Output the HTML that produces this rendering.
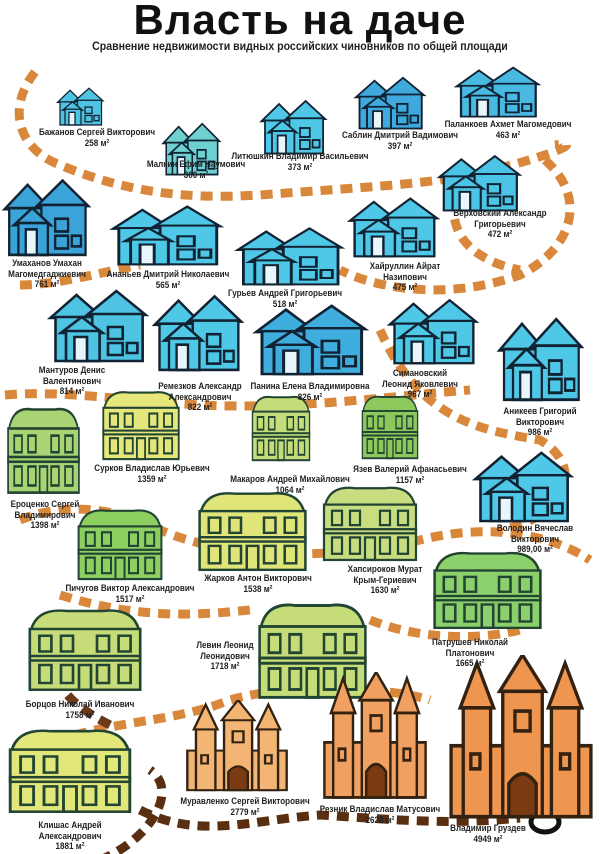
<!DOCTYPE html>
<html><head><meta charset="utf-8">
<style>
body{margin:0;width:600px;height:854px;background:#fff;position:relative;overflow:hidden;font-family:"Liberation Sans Narrow","Liberation Sans","DejaVu Sans Condensed",sans-serif;}
h1{position:absolute;top:-4px;left:0;width:600px;text-align:center;margin:0;font-size:42px;font-weight:bold;letter-spacing:1px;color:#111;font-family:"Liberation Sans",sans-serif}
.sub{position:absolute;top:41px;left:0;width:600px;text-align:center;font-size:11.5px;font-weight:bold;color:#222;transform:scaleX(0.92)}
.l{position:absolute;transform:translateX(-50%) scaleX(0.85);text-align:center;font-size:9.5px;font-weight:bold;line-height:10.5px;white-space:nowrap;color:#222}
svg.m{position:absolute;left:0;top:0}
</style></head><body>
<svg class="m" width="600" height="854" viewBox="0 0 600 854">
<defs>
<symbol id="h" viewBox="0 0 100 80" preserveAspectRatio="none">
<g stroke="#123" stroke-width="2.5" fill="currentColor">
<polygon points="5,35 30,12 55,35"/><polygon points="40,32 68,8 96,32"/>
<rect x="10" y="34" width="42" height="44"/><rect x="45" y="31" width="48" height="47"/>
<polygon points="15,50 35,34 55,50"/><rect x="20" y="48" width="32" height="30"/>
<rect x="28" y="54" width="12" height="24" fill="#e8f6fb"/><rect x="60" y="44" width="14" height="12" fill="none"/><rect x="60" y="60" width="14" height="12" fill="none"/><rect x="78" y="60" width="10" height="10" fill="none"/></g></symbol>
<symbol id="m" viewBox="0 0 100 80" preserveAspectRatio="none">
<g stroke="#243" stroke-width="2.2" fill="currentColor">
<path d="M5,25 Q10,5 35,8 L65,8 Q90,5 95,25 Z"/><rect x="4" y="24" width="92" height="54"/>
<rect x="4" y="48" width="92" height="4" fill="none"/>
<g fill="none"><rect x="12" y="30" width="10" height="14"/><rect x="30" y="30" width="10" height="14"/><rect x="60" y="30" width="10" height="14"/><rect x="78" y="30" width="10" height="14"/>
<rect x="12" y="56" width="10" height="16"/><rect x="30" y="56" width="10" height="16"/><rect x="45" y="56" width="10" height="22"/><rect x="60" y="56" width="10" height="16"/><rect x="78" y="56" width="10" height="16"/></g></g></symbol>
<symbol id="c" viewBox="0 0 100 100" preserveAspectRatio="none">
<g stroke="#321" stroke-width="2.2" fill="currentColor">
<rect x="4" y="55" width="92" height="43"/><rect x="12" y="30" width="18" height="68"/><rect x="70" y="30" width="18" height="68"/><rect x="38" y="20" width="26" height="78"/>
<polygon points="10,32 21,5 32,32"/><polygon points="68,32 79,5 90,32"/><polygon points="36,22 51,0 66,22"/>
<path d="M42,98 L42,78 Q51,66 60,78 L60,98 Z" fill="#7a3b12"/>
<g fill="none"><rect x="46" y="34" width="10" height="12"/><rect x="17" y="60" width="6" height="9"/><rect x="76" y="60" width="6" height="9"/></g></g></symbol>
</defs>
<g fill="none" stroke="#d9873a" stroke-width="9" stroke-dasharray="12 8">
<path d="M35,72 C5,110 20,150 60,165 C120,190 180,200 260,195 C350,188 420,185 470,175 C540,160 590,140 555,145"/>
<path d="M545,160 C590,200 570,250 520,275 C450,300 380,290 340,270"/>
<path d="M20,285 C60,285 110,270 140,265"/>
<path d="M5,395 C60,390 120,400 200,405 C300,410 400,395 470,390"/>
<path d="M460,180 C440,230 470,260 520,270"/>
<path d="M380,330 C420,420 480,430 540,440 C590,470 560,520 500,530"/>
<path d="M20,520 C70,500 120,510 160,530 C230,560 330,560 420,540 C500,520 560,540 590,560"/>
<path d="M60,595 C140,620 200,615 250,610"/>
<path d="M370,620 C420,640 480,640 520,630"/>
<path d="M75,735 C130,720 180,720 230,700 C300,680 400,690 430,700"/>
<path d="M110,725 C60,700 40,670 80,650" stroke="#6b3a18"/>
<path d="M140,810 C200,840 250,820 320,815 C400,820 450,825 520,818" stroke="#5a2e10"/>
<path d="M100,860 C150,840 180,790 150,770" stroke="#5a2e10"/>
</g>
<ellipse cx="545" cy="822" rx="14" ry="10" fill="none" stroke="#111" stroke-width="5"/>
<use href="#h" x="55" y="84" width="50" height="42" color="#4ec3e2"/>
<use href="#h" x="160" y="118" width="62" height="58" color="#6fd0d0"/>
<use href="#h" x="258" y="95" width="70" height="60" color="#4ec8e6"/>
<use href="#h" x="352" y="72" width="75" height="58" color="#3fa9dd"/>
<use href="#h" x="452" y="62" width="90" height="56" color="#49b9e2"/>
<use href="#h" x="435" y="150" width="88" height="62" color="#4cc4e5"/>
<use href="#h" x="0" y="172" width="92" height="85" color="#3aa3d8"/>
<use href="#h" x="107" y="200" width="118" height="66" color="#4ec8e6"/>
<use href="#h" x="232" y="222" width="114" height="64" color="#4ec8e6"/>
<use href="#h" x="345" y="192" width="96" height="66" color="#4ec8e6"/>
<use href="#h" x="45" y="283" width="105" height="80" color="#4ec3e2"/>
<use href="#h" x="150" y="288" width="95" height="84" color="#4ec8e6"/>
<use href="#h" x="250" y="298" width="120" height="78" color="#3faede"/>
<use href="#h" x="385" y="293" width="95" height="72" color="#4ec8e6"/>
<use href="#h" x="495" y="310" width="90" height="92" color="#4ec8e6"/>
<use href="#h" x="470" y="445" width="105" height="78" color="#4ec8e6"/>
<use href="#m" x="5" y="400" width="77" height="95" color="#a8d474"/>
<use href="#m" x="100" y="385" width="82" height="76" color="#e5e77a"/>
<use href="#m" x="250" y="390" width="62" height="72" color="#c5dc7a"/>
<use href="#m" x="360" y="390" width="60" height="70" color="#8cc85c"/>
<use href="#m" x="75" y="503" width="90" height="78" color="#8ecf62"/>
<use href="#m" x="195" y="485" width="115" height="87" color="#e0e57a"/>
<use href="#m" x="320" y="480" width="100" height="82" color="#c8dc80"/>
<use href="#m" x="430" y="545" width="115" height="85" color="#8bd06a"/>
<use href="#m" x="25" y="602" width="120" height="90" color="#c5dc78"/>
<use href="#m" x="255" y="595" width="115" height="105" color="#c5dc78"/>
<use href="#m" x="5" y="722" width="130" height="92" color="#e2e77a"/>
<use href="#c" x="183" y="700" width="108" height="92" color="#f3b574"/>
<use href="#c" x="320" y="672" width="110" height="128" color="#f0a060"/>
<use href="#c" x="445" y="655" width="152" height="165" color="#ee9550"/>
</svg>
<h1>Власть на даче</h1>
<div class="sub">Сравнение недвижимости видных российских чиновников по общей площади</div>
<div class="l" style="left:97px;top:128px">Бажанов Сергей Викторович<br>258 м²</div>
<div class="l" style="left:196px;top:160px">Малкин Ефим Наумович<br>300 м²</div>
<div class="l" style="left:300px;top:152px">Литюшкин Владимир Васильевич<br>373 м²</div>
<div class="l" style="left:400px;top:131px">Саблин Дмитрий Вадимович<br>397 м²</div>
<div class="l" style="left:508px;top:120px">Паланкоев Ахмет Магомедович<br>463 м²</div>
<div class="l" style="left:500px;top:209px">Верховский Александр<br>Григорьевич<br>472 м²</div>
<div class="l" style="left:47px;top:259px">Умаханов Умахан<br>Магомедгаджиевич<br>761 м²</div>
<div class="l" style="left:168px;top:270px">Ананьев Дмитрий Николаевич<br>565 м²</div>
<div class="l" style="left:285px;top:289px">Гурьев Андрей Григорьевич<br>518 м²</div>
<div class="l" style="left:405px;top:262px">Хайруллин Айрат<br>Назипович<br>475 м²</div>
<div class="l" style="left:72px;top:366px">Мантуров Денис<br>Валентинович<br>814 м²</div>
<div class="l" style="left:200px;top:382px">Ремезков Александр<br>Александрович<br>822 м²</div>
<div class="l" style="left:310px;top:382px">Панина Елена Владимировна<br>826 м²</div>
<div class="l" style="left:420px;top:369px">Симановский<br>Леонид Яковлевич<br>967 м²</div>
<div class="l" style="left:540px;top:407px">Аникеев Григорий<br>Викторович<br>986 м²</div>
<div class="l" style="left:45px;top:500px">Ероценко Сергей<br>Владимирович<br>1398 м²</div>
<div class="l" style="left:152px;top:464px">Сурков Владислав Юрьевич<br>1359 м²</div>
<div class="l" style="left:290px;top:475px">Макаров Андрей Михайлович<br>1064 м²</div>
<div class="l" style="left:410px;top:465px">Язев Валерий Афанасьевич<br>1157 м²</div>
<div class="l" style="left:535px;top:524px">Володин Вячеслав<br>Викторович<br>989,00 м²</div>
<div class="l" style="left:130px;top:584px">Пичугов Виктор Александрович<br>1517 м²</div>
<div class="l" style="left:258px;top:574px">Жарков Антон Викторович<br>1538 м²</div>
<div class="l" style="left:385px;top:565px">Хапсироков Мурат<br>Крым-Гериевич<br>1630 м²</div>
<div class="l" style="left:470px;top:638px">Патрушев Николай<br>Платонович<br>1665 м²</div>
<div class="l" style="left:225px;top:641px">Левин Леонид<br>Леонидович<br>1718 м²</div>
<div class="l" style="left:80px;top:700px">Борцов Николай Иванович<br>1758 м²</div>
<div class="l" style="left:70px;top:821px">Клишас Андрей<br>Александрович<br>1881 м²</div>
<div class="l" style="left:245px;top:797px">Муравленко Сергей Викторович<br>2779 м²</div>
<div class="l" style="left:380px;top:805px">Резник Владислав Матусович<br>2628 м²</div>
<div class="l" style="left:488px;top:824px">Владимир Груздев<br>4949 м²</div>
</body></html>
